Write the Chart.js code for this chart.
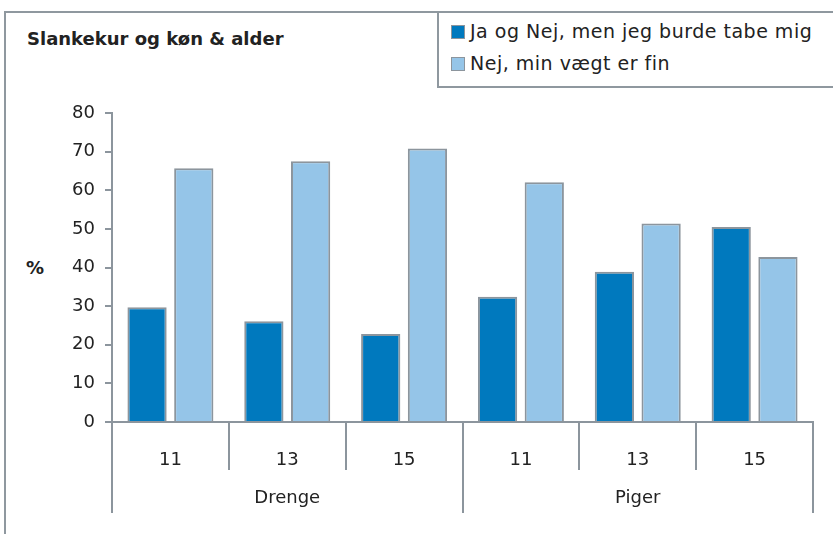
<!DOCTYPE html>
<html>
<head>
<meta charset="utf-8">
<script src="https://cdn.jsdelivr.net/npm/chart.js@4"></script>
<style>
  body { margin: 0; background: #fff; }
  #wrap { position: relative; width: 833px; height: 534px; overflow: hidden; font-family: "DejaVu Sans", Verdana, sans-serif; color: #222; }
  #frame { position: absolute; left: 4px; top: 11px; width: 840px; height: 540px; border: 2px solid #8f989f; box-sizing: border-box; }
  #title { position: absolute; left: 27px; top: 28px; font-size: 18px; font-weight: bold; color: #222; }
  #legend { position: absolute; left: 437px; top: 11px; width: 410px; height: 77px; border: 2px solid #8f989f; border-right: none; box-sizing: border-box; background: #fff; }
  .item { position: absolute; left: 12px; font-size: 19px; letter-spacing: 0.5px; white-space: nowrap; }
  .sw { display: inline-block; width: 12px; height: 12px; border: 1.5px solid #8c959d; vertical-align: -1px; margin-right: 5px; }
  #ylab { position: absolute; left: 26px; top: 257px; font-size: 18px; font-weight: bold; }
  canvas { position: absolute; left: 0; top: 0; }
</style>
</head>
<body>
<div id="wrap">
  <div id="frame"></div>
  <div id="title">Slankekur og køn &amp; alder</div>
  <div id="legend"></div>
  <div id="ylab">%</div>
  <canvas id="c" width="833" height="534"></canvas>
</div>
<script>
const categories = ['11', '13', '15', '11', '13', '15'];
const groups = ['Drenge', 'Drenge', 'Drenge', 'Piger', 'Piger', 'Piger'];
const seriesNames = ['Ja og Nej, men jeg burde tabe mig', 'Nej, min vægt er fin'];
const jaValues = [29.7, 26.1, 22.8, 32.4, 38.9, 50.5];
const nejValues = [65.7, 67.5, 70.8, 62.1, 51.4, 42.7];
const yTicks = [0, 10, 20, 30, 40, 50, 60, 70, 80];

const colors = ['#0079be', '#95c5e8'];
const edge = '#8c959d';
const font = '"DejaVu Sans", Verdana, sans-serif';

// legend as html
const legend = document.getElementById('legend');
seriesNames.forEach((name, i) => {
    const d = document.createElement('div');
    d.className = 'item';
    d.style.top = (i === 0 ? 7 : 39) + 'px';
    d.innerHTML = '<span class="sw" style="background:' + colors[i] + '"></span>' + name;
    legend.appendChild(d);
});

const groupAxis = {
    id: 'groupAxis',
    afterDraw(chart) {
        const x = chart.scales.x;
        const ctx = chart.ctx;
        const step = x.getPixelForValue(1) - x.getPixelForValue(0);
        const start = x.getPixelForValue(0) - step / 2;
        ctx.save();
        ctx.strokeStyle = edge;
        ctx.lineWidth = 2;
        for (let i = 0; i <= categories.length; i++) {
            const bx = Math.round(start + i * step);
            const isGroup = i === 0 || i === categories.length || groups[i] !== groups[i - 1];
            ctx.beginPath();
            ctx.moveTo(bx, x.top);
            ctx.lineTo(bx, x.top + (isGroup ? 91 : 48));
            ctx.stroke();
        }
        ctx.fillStyle = '#222';
        ctx.font = '18px ' + font;
        ctx.textAlign = 'center';
        ctx.textBaseline = 'middle';
        let first = 0;
        for (let i = 1; i <= groups.length; i++) {
            if (i === groups.length || groups[i] !== groups[first]) {
                const cx = (x.getPixelForValue(first) + x.getPixelForValue(i - 1)) / 2;
                ctx.fillText(groups[first], cx, x.top + 76);
                first = i;
            }
        }
        ctx.restore();
    }
};

new Chart(document.getElementById('c'), {
    type: 'bar',
    data: {
        labels: categories,
        datasets: [{
            label: seriesNames[0],
            data: jaValues,
            backgroundColor: colors[0],
            borderColor: edge,
            borderWidth: 2
        }, {
            label: seriesNames[1],
            data: nejValues,
            backgroundColor: colors[1],
            borderColor: edge,
            borderWidth: 2
        }]
    },
    options: {
        responsive: false,
        animation: false,
        categoryPercentage: 0.8,
        barPercentage: 0.84,
        layout: { padding: { top: 113, right: 20, left: 0, bottom: 0 } },
        plugins: {
            legend: { display: false },
            tooltip: { enabled: false }
        },
        scales: {
            x: {
                afterFit(s) { s.height = 112; },
                grid: { display: false, drawTicks: false },
                border: { display: true, color: edge, width: 2 },
                ticks: { color: '#222', padding: 28, font: { family: font, size: 18 } }
            },
            y: {
                min: 0,
                max: 80,
                afterFit(s) { s.width = 112; },
                afterBuildTicks(s) { s.ticks = yTicks.map(v => ({ value: v })); },
                grid: { drawOnChartArea: false, color: edge, lineWidth: 2, tickLength: 7 },
                border: { display: true, color: edge, width: 2 },
                ticks: { color: '#222', padding: 10, font: { family: font, size: 18 } }
            }
        }
    },
    plugins: [groupAxis]
});
</script>
</body>
</html>
